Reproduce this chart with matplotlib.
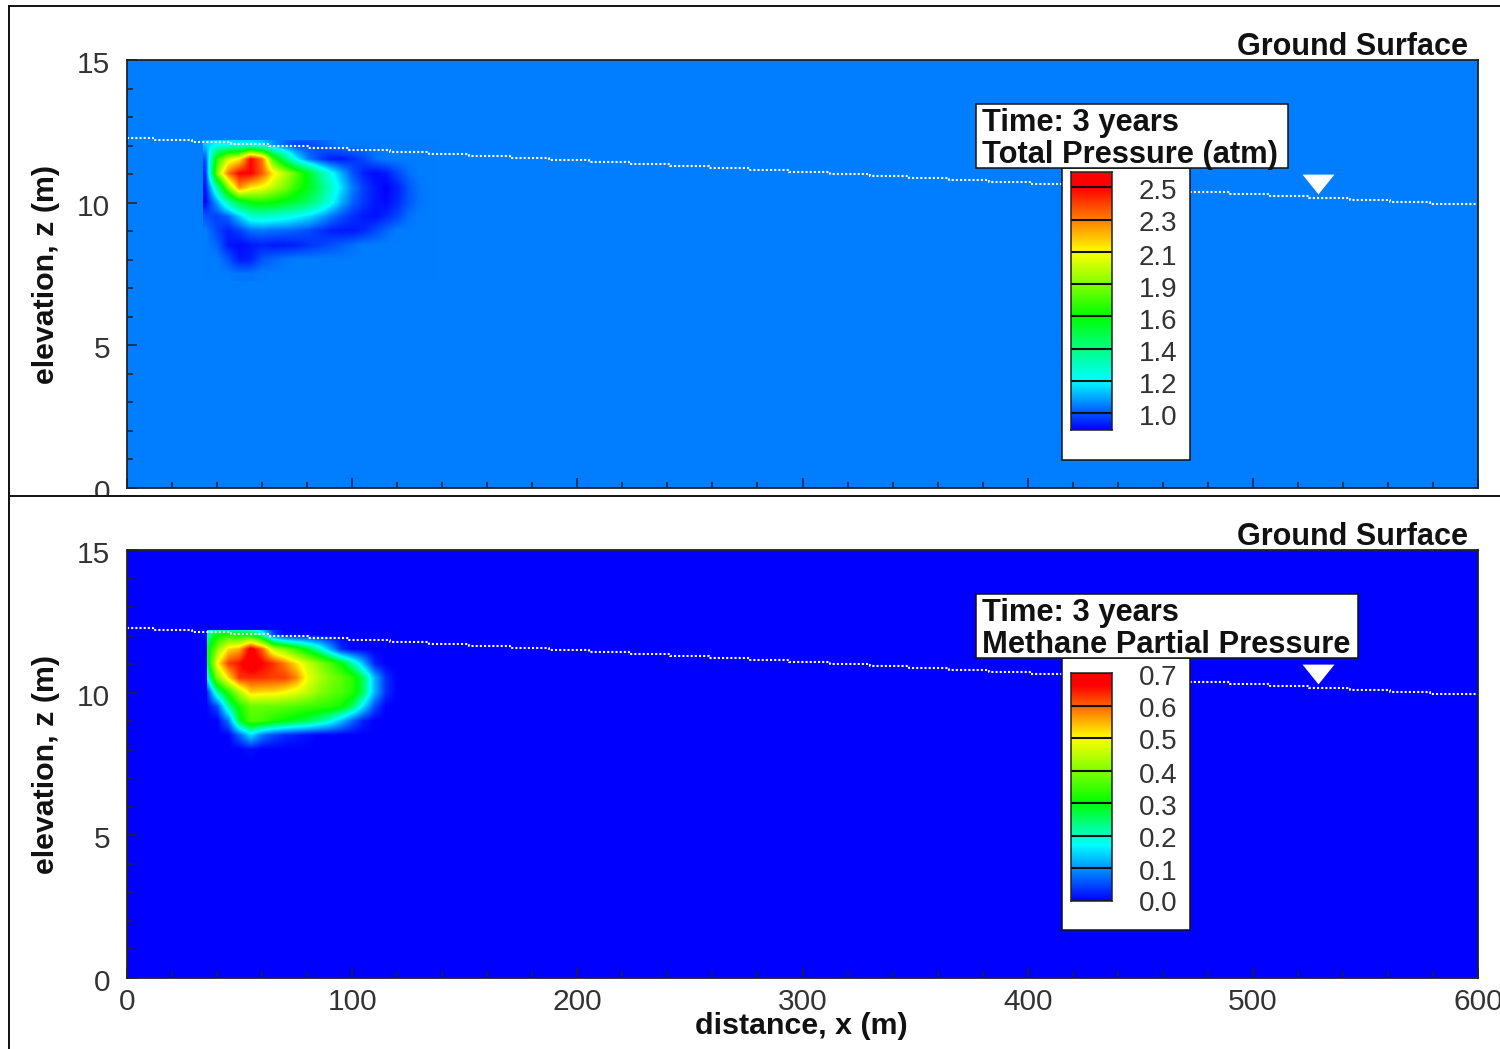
import matplotlib
matplotlib.use('Agg')
import matplotlib.pyplot as plt
from matplotlib.colors import LinearSegmentedColormap, Normalize
from matplotlib.lines import Line2D
from matplotlib.patches import Rectangle
from matplotlib.ticker import MultipleLocator
from matplotlib.transforms import ScaledTranslation
import numpy as np

plt.rcParams['font.family'] = ['Liberation Sans', 'DejaVu Sans']

W, H = 1500, 1049

# plume grid: columns are x = 35, 40 ... 135, rows are z = 12.5 ... 7.5
bg_p = 1.05
total_p = np.array([
    [1.05]*21,
    [1.15,1.22,1.22,1.22,1.22,1.18,1.08,1.02,.98,.98,1.0,1.03,1.05,1.05,1.05,1.05,1.05,1.05,1.05,1.05,1.05],
    [1.00,1.70,2.00,2.10,2.50,2.30,1.75,1.48,1.22,1.06,.98,.93,.92,.95,.98,1.03,1.05,1.05,1.05,1.05,1.05],
    [.95,1.85,2.30,2.50,2.50,2.35,2.10,1.95,1.80,1.62,1.42,1.25,1.12,1.00,.93,.90,.92,.98,1.03,1.05,1.05],
    [.92,1.35,1.85,2.25,2.10,2.05,1.95,1.85,1.72,1.62,1.48,1.32,1.18,1.05,.97,.92,.89,.93,1.00,1.04,1.05],
    [.90,1.10,1.35,1.55,1.65,1.68,1.65,1.60,1.55,1.48,1.38,1.26,1.12,1.02,.96,.92,.90,.94,1.00,1.04,1.05],
    [1.00,.97,1.02,1.15,1.28,1.30,1.28,1.26,1.22,1.18,1.12,1.05,.99,.95,.92,.91,.94,.98,1.03,1.05,1.05],
    [1.05,.98,.93,.97,1.03,1.04,1.03,1.02,1.01,.99,.96,.93,.92,.92,.94,.98,1.02,1.05,1.05,1.05,1.05],
    [1.05,1.02,.92,.90,.92,.93,.92,.92,.93,.95,.97,.99,1.01,1.03,1.05,1.05,1.05,1.05,1.05,1.05,1.05],
    [1.05,1.05,1.00,.92,.93,1.00,1.02,1.04,1.05,1.05,1.05,1.05,1.05,1.05,1.05,1.05,1.05,1.05,1.05,1.05,1.05],
    [1.05,1.05,1.05,1.04,1.04,1.05,1.05,1.05,1.05,1.05,1.05,1.05,1.05,1.05,1.05,1.05,1.05,1.05,1.05,1.05,1.05],
])

bg_m = 0.0
methane_p = np.array([
    [0]*21,
    [.20,.30,.32,.30,.30,.20,.05,0,0,0,0,0,0,0,0,0,0,0,0,0,0],
    [.25,.40,.52,.55,.68,.60,.45,.40,.34,.28,.21,.12,.03,0,0,0,0,0,0,0,0],
    [.22,.50,.62,.65,.70,.66,.63,.58,.52,.46,.41,.36,.30,.22,.12,.02,0,0,0,0,0],
    [.14,.40,.52,.63,.63,.63,.62,.62,.58,.49,.44,.40,.37,.33,.25,.12,.03,0,0,0,0],
    [0,.22,.33,.44,.53,.52,.52,.50,.48,.45,.41,.38,.36,.33,.25,.12,.03,0,0,0,0],
    [0,.05,.22,.32,.38,.38,.38,.37,.36,.35,.34,.33,.31,.25,.15,.05,0,0,0,0,0],
    [0,0,.08,.28,.36,.35,.32,.30,.28,.26,.23,.19,.13,.07,.02,0,0,0,0,0,0],
    [0,0,0,.07,.15,.08,.05,.03,.02,.01,0,0,0,0,0,0,0,0,0,0,0],
    [0,0,0,0,.01,0,0,0,0,0,0,0,0,0,0,0,0,0,0,0,0],
    [0]*21,
])

# water table
water_x = [0, 11.5, 29, 46, 63, 80.5, 98.5, 117, 134, 152, 170, 187.5, 205, 223, 241, 258.5, 276.5, 294,
           312, 330, 347.5, 365, 383, 401, 418.5, 436.5, 454, 472, 490, 507.5, 525, 543, 561, 578.5, 600]
water_z = [12.27, 12.20, 12.13, 12.06, 11.99, 11.92, 11.85, 11.78, 11.71, 11.64, 11.57, 11.50, 11.43, 11.36,
           11.29, 11.22, 11.15, 11.08, 11.01, 10.94, 10.87, 10.80, 10.73, 10.66, 10.59, 10.52, 10.45, 10.38,
           10.31, 10.24, 10.17, 10.10, 10.03, 9.96, 9.92]
triangle_x = [529]
triangle_z = [10.65]

total_levels = [1.0, 1.214, 1.428, 1.642, 1.856, 2.07, 2.284, 2.5]
total_labels = ['1.0', '1.2', '1.4', '1.6', '1.9', '2.1', '2.3', '2.5']
methane_levels = [0.0, 0.1, 0.2, 0.3, 0.4, 0.5, 0.6, 0.7]
methane_labels = ['0.0', '0.1', '0.2', '0.3', '0.4', '0.5', '0.6', '0.7']

# value where the bar turns blue, cyan, green, yellow, red
total_stops = [0.888, 1.214, 1.642, 2.07, 2.5, 2.6]
methane_stops = [0.0, 0.17, 0.30, 0.50, 0.66, 0.7]
stop_colors = ['#0000ff', '#00ffff', '#00ff00', '#ffff00', '#ff0000', '#ff0000']


def make_cmap(stops):
    lo, hi = stops[0], stops[-1]
    nodes = [(s-lo)/(hi-lo) for s in stops]
    return LinearSegmentedColormap.from_list('bar', list(zip(nodes, stop_colors)), N=512), Normalize(lo, hi)


def axes_px(x0, y0, x1, y1, **kw):
    return fig.add_axes([x0/W, 1-y1/H, (x1-x0)/W, (y1-y0)/H], **kw)


def box_px(x0, y0, x1, y1):
    fig.add_artist(Rectangle((x0/W, 1-y1/H), (x1-x0)/W, (y1-y0)/H, transform=fig.transFigure,
                             fc='white', ec='#111111', lw=1.1, zorder=5))


def text_px(x, y, s, **kw):
    return fig.text(x/W, 1-(y+2)/H, s, va='center', zorder=8, **kw)


def draw_panel(top, field, bg, stops, levels, labels, title, title_right, panel_bot, clip_left, bar_top, bar_bot, level_y):
    cmap, norm = make_cmap(stops)
    ax = axes_px(127, top, 1478, top+428, zorder=1)
    ax.set_facecolor(cmap(norm(bg)))
    im = ax.imshow(field, cmap=cmap, norm=norm, interpolation='bilinear', interpolation_stage='data',
                   extent=[32.5, 137.5, 7.25, 12.75], aspect='auto', zorder=1)
    im.set_clip_path(Rectangle((clip_left, 0), 200, 12.2, transform=ax.transData))
    ax.plot(water_x, water_z, color='white', lw=1.5, ls=(0, (1, 1)), drawstyle='steps-post', zorder=2)
    ax.plot(triangle_x, triangle_z, marker=[(-1, .62), (1, .62), (0, -.62)], color='white', ms=23, mew=0, zorder=3)
    ax.set_xlim(0, 600)
    ax.set_ylim(0, 15)
    ax.xaxis.set_major_locator(MultipleLocator(100))
    ax.xaxis.set_minor_locator(MultipleLocator(20))
    ax.yaxis.set_major_locator(MultipleLocator(5))
    ax.yaxis.set_minor_locator(MultipleLocator(1))
    ax.tick_params(which='major', direction='in', length=7.5, width=1.1, color='#222222',
                   labelsize=21.5, labelcolor='#333333', pad=12)
    ax.tick_params(which='minor', direction='in', length=4, width=1.1, color='#222222')
    ax.tick_params(axis='x', pad=7.5)
    for s in ['top', 'bottom', 'left', 'right']:
        ax.spines[s].set_linewidth(1.3)
        ax.spines[s].set_color('#222222')
    text_px(46, top+213, 'elevation, z (m)', rotation=90, ha='center', fontsize=21.9, fontweight='bold', color='#111111')
    text_px(1468, top-15, 'Ground Surface', ha='right', fontsize=22, fontweight='bold', color='#111111')

    # legend panel, colour bar and heading box
    box_px(1062, top+108, 1190, panel_bot)
    box_px(976, top+44, title_right, top+108)
    text_px(982, top+61, 'Time: 3 years', ha='left', fontsize=22.2, fontweight='bold', color='#111111')
    text_px(982, top+93, title, ha='left', fontsize=22.2, fontweight='bold', color='#111111')

    cax = axes_px(1071, bar_top, 1112, bar_bot, zorder=6)
    grad = np.linspace(norm.vmax, norm.vmin, 256).reshape(-1, 1)
    cax.imshow(grad, cmap=cmap, norm=norm, aspect='auto', extent=[0, 1, norm.vmin, norm.vmax])
    cax.hlines(levels, 0, 1, color='#111111', lw=1.5)
    cax.set_xticks([])
    cax.set_yticks([])
    for s in cax.spines.values():
        s.set_linewidth(1.1)
        s.set_color('#222222')
    for y, lab in zip(level_y, labels):
        text_px(1158, y+1, lab, ha='center', fontsize=20, color='#333333')
    return ax


fig = plt.figure(figsize=(W/100, H/100), dpi=100, facecolor='white')

ax1 = draw_panel(60, total_p, bg_p, total_stops, total_levels, total_labels, 'Total Pressure (atm)', 1288, 460, 33.8,
                 172, 430, [415, 383, 351, 319, 287, 255, 221, 189])
ax2 = draw_panel(550, methane_p, bg_m, methane_stops, methane_levels, methane_labels, 'Methane Partial Pressure', 1358, 930, 35.5,
                 673, 901, [901, 870, 837, 805, 773, 739, 707, 675])

ax1.tick_params(axis='x', labelbottom=False)

# tick labels sit 2 px lower; the "0" of the upper panel is cut off by the divider line
shift = ScaledTranslation(0, -2/100, fig.dpi_scale_trans)
clip = Rectangle((0, 1-495/H), 1, 495/H, transform=fig.transFigure)
for ax in [ax1, ax2]:
    for t in ax.yaxis.get_major_ticks():
        t.label1.set_transform(t.label1.get_transform() + shift)
for t in ax1.yaxis.get_major_ticks():
    t.label1.set_clip_path(clip)

text_px(801, 1024, 'distance, x (m)', ha='center', fontsize=21.9, fontweight='bold', color='#111111')

for xs, ys in [([9, 9], [6, 1049]), ([9, 1500], [6, 6]), ([9, 1500], [495.5, 495.5])]:
    fig.add_artist(Line2D([x/W for x in xs], [1-y/H for y in ys], transform=fig.transFigure,
                          color='#111111', lw=1.4, zorder=7))

fig.savefig('out.png', dpi=100)
